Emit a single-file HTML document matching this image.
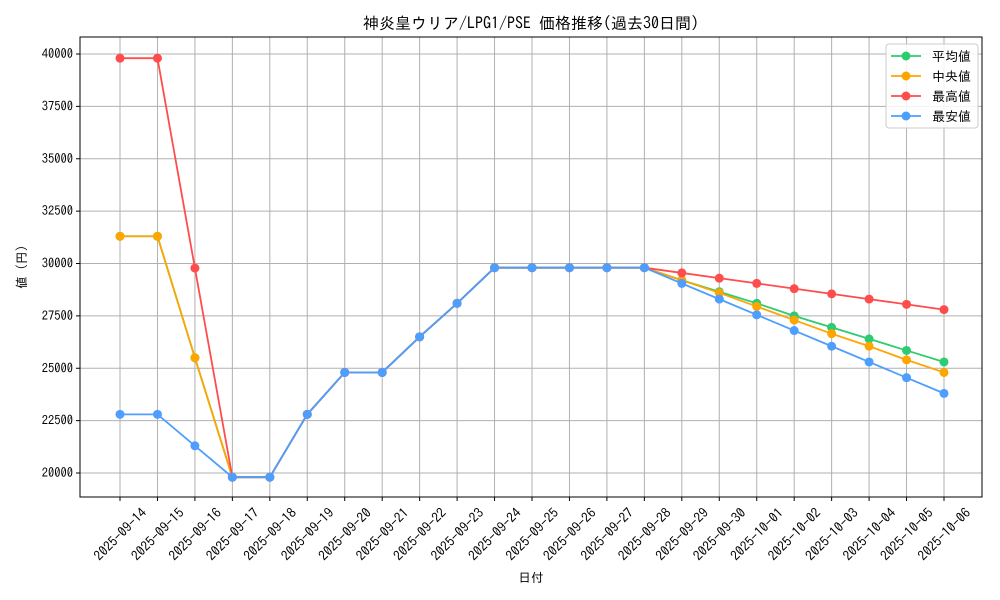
<!DOCTYPE html>
<html><head><meta charset="utf-8"><style>
body{margin:0;background:#fff}
svg{display:block;font-family:"IPAGothic","Liberation Sans","Noto Sans CJK JP",sans-serif}
</style></head><body>
<svg id="chart" width="1000" height="600"></svg>
<script>
const dates=["2025-09-14","2025-09-15","2025-09-16","2025-09-17","2025-09-18","2025-09-19","2025-09-20","2025-09-21","2025-09-22","2025-09-23","2025-09-24","2025-09-25","2025-09-26","2025-09-27","2025-09-28","2025-09-29","2025-09-30","2025-10-01","2025-10-02","2025-10-03","2025-10-04","2025-10-05","2025-10-06"];
const meanVals=[31300,31300,25500,19800,19800,22800,24800,24800,26500,28100,29800,29800,29800,29800,29800,29200,28650,28100,27500,26950,26400,25850,25300];
const medianVals=[31300,31300,25500,19800,19800,22800,24800,24800,26500,28100,29800,29800,29800,29800,29800,29200,28600,27950,27300,26650,26050,25400,24800];
const maxVals=[39800,39800,29780,19800,19800,22800,24800,24800,26500,28100,29800,29800,29800,29800,29800,29550,29300,29050,28800,28550,28300,28050,27800];
const minVals=[22800,22800,21300,19800,19800,22800,24800,24800,26500,28100,29800,29800,29800,29800,29800,29050,28300,27550,26800,26050,25300,24550,23800];
const yTicks=[20000,22500,25000,27500,30000,32500,35000,37500,40000];
const seriesNames=["平均値","中央値","最高値","最安値"];
const seriesColors=["#2ecc71","#ffa500","#ff4d4d","#4d9eff"];
const NS="http://www.w3.org/2000/svg";
const svg=document.getElementById('chart');
const L=80,R=982,T=37,B=497;
const x=i=>120+i*(944-120)/(dates.length-1);
const y=v=>473-(v-20000)*(473-54)/20000;
function mk(tag,attrs,parent){const e=document.createElementNS(NS,tag);for(const k in attrs)e.setAttribute(k,attrs[k]);(parent||svg).appendChild(e);return e;}
dates.forEach((d,i)=>{const g=mk('line',{x1:x(i),x2:x(i),y1:T,y2:B,stroke:'#b0b0b0','stroke-width':1});


mk('line',{x1:x(i),x2:x(i),y1:B,y2:B+4,stroke:'#000'});
const cy=534;
const t=mk('text',{x:x(i),y:cy,'font-size':13.5,'text-anchor':'middle','dominant-baseline':'central',transform:`rotate(-45 ${x(i)} ${cy})`});t.textContent=d;

});
yTicks.forEach(v=>{const g=mk('line',{x1:L,x2:R,y1:y(v),y2:y(v),stroke:'#b0b0b0','stroke-width':1});


mk('line',{x1:L-4,x2:L,y1:y(v),y2:y(v),stroke:'#000'});
const t=mk('text',{x:L-7,y:y(v)+4,'font-size':12.5,'text-anchor':'end'});t.textContent=v;

});
const fr=mk('rect',{x:L,y:T,width:R-L,height:B-T,fill:'none',stroke:'#000'});


[meanVals,medianVals,maxVals,minVals].forEach((vals,s)=>{
const p=mk('polyline',{points:vals.map((v,i)=>x(i)+','+y(v)).join(' '),fill:'none',stroke:seriesColors[s],'stroke-width':1.8});


vals.forEach((v,i)=>{const c=mk('circle',{cx:x(i),cy:y(v),r:4.5,fill:seriesColors[s]});

});
});
const title=mk('text',{x:531,y:29,'font-size':16,'text-anchor':'middle'});title.textContent='神炎皇ウリア/LPG1/PSE 価格推移(過去30日間)';


const xt=mk('text',{x:531,y:582,'font-size':12.5,'text-anchor':'middle'});xt.textContent='日付';


const yt=mk('text',{x:26,y:267,'font-size':12.5,'text-anchor':'middle',transform:'rotate(-90 26 267)'});yt.textContent='値 (円)';


const lg=mk('rect',{x:886,y:44,width:92,height:84,rx:3,fill:'#fff','fill-opacity':0.85,stroke:'#ccc'});


seriesNames.forEach((n,s)=>{const yy=56+s*20;
mk('line',{x1:891,x2:921,y1:yy,y2:yy,stroke:seriesColors[s],'stroke-width':1.8});
mk('circle',{cx:906,cy:yy,r:4.5,fill:seriesColors[s]});
const t=mk('text',{x:932,y:yy+5,'font-size':13});t.textContent=n;

});
</script>
</body></html>
